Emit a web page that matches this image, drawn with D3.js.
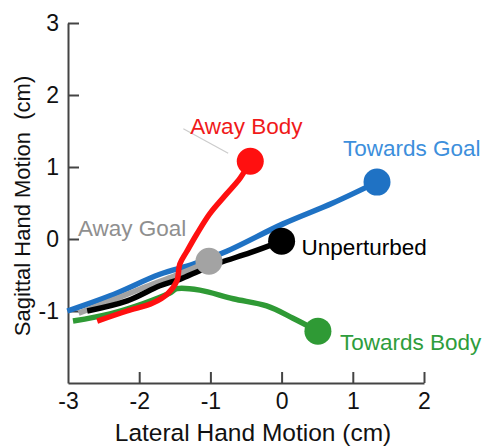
<!DOCTYPE html>
<html>
<head>
<meta charset="utf-8">
<script src="https://cdn.jsdelivr.net/npm/d3@7"></script>
<style>
  body { margin: 0; background: #fff; }
  text { font-family: "Liberation Sans", Arial, sans-serif; }
</style>
</head>
<body>
<div id="chart"></div>
<script>
// tick labels
var xTicks = [-3, -2, -1, 0, 1, 2];
var yTicks = [-1, 0, 1, 2, 3];

// mean hand paths, [lateral, sagittal] in cm
var towardsGoal = [[-3.01,-1.0],[-2.41,-0.79],[-1.71,-0.49],[-1.24,-0.35],[-0.77,-0.17],[0.02,0.21],[0.72,0.50],[1.34,0.79]];
var unperturbed = [[-2.73,-1.0],[-2.17,-0.86],[-1.71,-0.65],[-1.43,-0.56],[-1.15,-0.44],[-0.87,-0.33],[-0.44,-0.19],[0.0,-0.03]];
var awayGoal    = [[-2.85,-1.03],[-2.4,-0.86],[-1.9,-0.66],[-1.5,-0.51],[-1.2,-0.39],[-1.02,-0.31]];
var towardsBody = [[-2.93,-1.14],[-2.41,-1.04],[-1.95,-0.90],[-1.57,-0.75],[-1.47,-0.69],[-1.15,-0.71],[-0.68,-0.83],[-0.21,-0.93],[0.16,-1.10],[0.51,-1.28]];
var awayBody    = [[-2.59,-1.14],[-2.17,-1.0],[-1.81,-0.89],[-1.60,-0.76],[-1.47,-0.58],[-1.43,-0.35],[-1.33,-0.17],[-1.19,0.07],[-1.01,0.35],[-0.77,0.63],[-0.58,0.85],[-0.44,1.08]];

// leader line next to "Away Body"
var leader = [[-1.38,1.53],[-0.75,1.19]];

var series = [
  {name: "Towards Body", pts: towardsBody, line: "#2f9a35", label: "#2e9d3c", dx: 22, dy: 19},
  {name: "Towards Goal", pts: towardsGoal, line: "#1f72c4", label: "#3d8fdc", dx: -34, dy: -26},
  {name: "Away Goal",    pts: awayGoal,    line: "#a3a3a3", label: "#8f8f8f", dx: -131, dy: -25},
  {name: "Unperturbed",  pts: unperturbed, line: "#000000", label: "#000000", dx: 20, dy: 14},
  {name: "Away Body",    pts: awayBody,    line: "#ff1010", label: "#f01a1a", dx: -60, dy: -27}
];

var W = 485, H = 446;
var svg = d3.select("#chart")
  .append("svg")
    .attr("width", W)
    .attr("height", H);

var x = d3.scaleLinear().domain([-3, 2]).range([68, 424]);
var y = d3.scaleLinear().domain([-2, 3]).range([383, 23]);

// axes, ticks point inwards
var gx = svg.append("g")
  .attr("transform", "translate(0," + y(-2) + ")")
  .call(d3.axisBottom(x).tickValues(xTicks).tickSize(-11).tickSizeOuter(0).tickPadding(10)
    .tickFormat(d3.format("d")));
var gy = svg.append("g")
  .attr("transform", "translate(" + x(-3) + ",0)")
  .call(d3.axisLeft(y).tickValues(yTicks).tickSize(-11).tickSizeOuter(0).tickPadding(9)
    .tickFormat(d3.format("d")));

[gx, gy].forEach(function(g) {
  g.select(".domain").attr("stroke", "#444").attr("stroke-width", 2);
  g.selectAll(".tick line").attr("stroke", "#444").attr("stroke-width", 2);
  g.selectAll(".tick text")
    .attr("fill", "#111")
    .style("font-size", "23px")
    .style("font-family", "Liberation Sans, Arial, sans-serif")
    .text(function(d) { return d < 0 ? "-" + Math.abs(d) : d; });
});
gx.selectAll(".tick").filter(function(d) { return d === -3; }).select("line").remove();

// axis titles
svg.append("text")
  .attr("x", 253).attr("y", 441)
  .attr("text-anchor", "middle")
  .style("font-size", "24.5px")
  .attr("fill", "#111")
  .text("Lateral Hand Motion (cm)");

svg.append("text")
  .attr("transform", "translate(30,206) rotate(-90)")
  .attr("text-anchor", "middle")
  .style("font-size", "22px")
  .attr("fill", "#111")
  .style("white-space", "pre")
  .text("Sagittal Hand Motion  (cm)");

// faint leader
svg.append("path")
  .datum(leader)
  .attr("fill", "none")
  .attr("stroke", "#cccccc")
  .attr("stroke-width", 1.2)
  .attr("d", d3.line().x(function(d) { return x(d[0]); }).y(function(d) { return y(d[1]); }));

var line = d3.line()
  .curve(d3.curveCatmullRom)
  .x(function(d) { return x(d[0]); })
  .y(function(d) { return y(d[1]); });

// paths
svg.selectAll("path.traj")
  .data(series)
  .enter()
  .append("path")
    .attr("class", "traj")
    .attr("fill", "none")
    .attr("stroke", function(d) { return d.line; })
    .attr("stroke-width", 5.5)
    .attr("stroke-linecap", "butt")
    .attr("d", function(d) { return line(d.pts); });

// end points
svg.selectAll("circle.end")
  .data(series)
  .enter()
  .append("circle")
    .attr("class", "end")
    .attr("cx", function(d) { return x(d.pts[d.pts.length - 1][0]); })
    .attr("cy", function(d) { return y(d.pts[d.pts.length - 1][1]); })
    .attr("r", 13.5)
    .attr("fill", function(d) { return d.line; });

// labels
svg.selectAll("text.lab")
  .data(series)
  .enter()
  .append("text")
    .attr("class", "lab")
    .attr("x", function(d) { return x(d.pts[d.pts.length - 1][0]) + d.dx; })
    .attr("y", function(d) { return y(d.pts[d.pts.length - 1][1]) + d.dy; })
    .attr("fill", function(d) { return d.label; })
    .style("font-size", "22.5px")
    .text(function(d) { return d.name; });
</script>
</body>
</html>
